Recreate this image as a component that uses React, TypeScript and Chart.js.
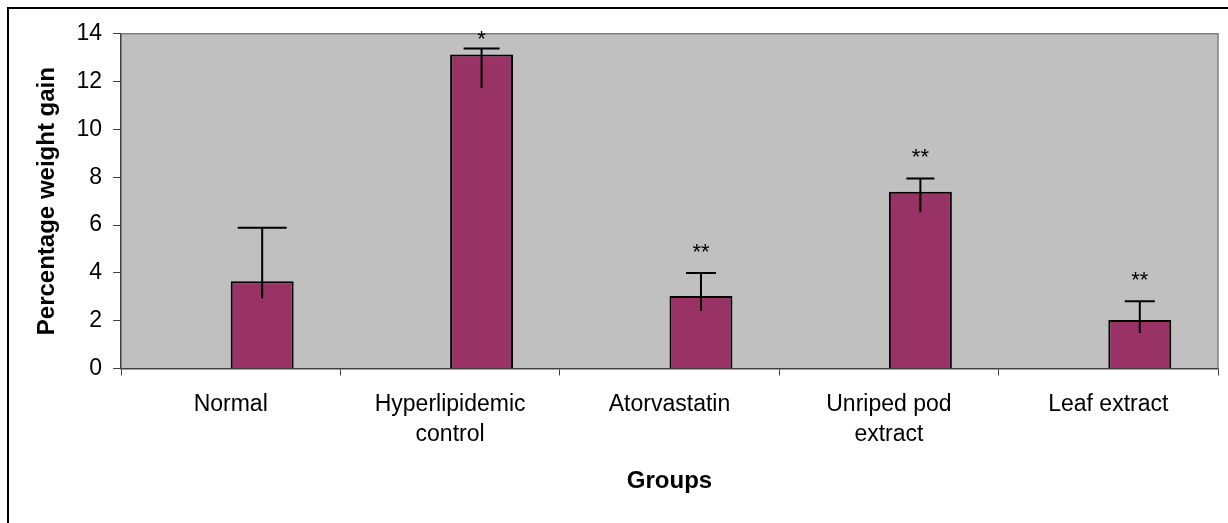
import React, { useEffect, useRef } from "react";
import { Chart, registerables } from "chart.js";

Chart.register(...registerables);

const categories: string[][] = [
  ["Normal"],
  ["Hyperlipidemic", "control"],
  ["Atorvastatin"],
  ["Unriped pod", "extract"],
  ["Leaf extract"],
];
const emptySeries: (number | null)[] = [null, null, null, null, null];
const meanGain: number[] = [3.65, 13.13, 3.03, 7.39, 2.03];
const errorPlus: number[] = [2.24, 0.26, 0.96, 0.56, 0.78];
const errorMinus: number[] = [0.71, 1.4, 0.62, 0.85, 0.54];
const significance: string[] = ["", "*", "**", "**", "**"];

const Y_MIN = 0;
const Y_MAX = 14;
const Y_STEP = 2;

const FONT = "'Liberation Sans', Arial, Helvetica, sans-serif";
const CAP_WIDTHS = [49, 36, 30, 28, 30];

const plotPlugin = {
  id: "plotDecor",
  beforeDraw(chart: any) {
    const { ctx, chartArea } = chart;
    ctx.save();
    ctx.fillStyle = "#C0C0C0";
    ctx.fillRect(chartArea.left, chartArea.top, chartArea.right - chartArea.left, chartArea.bottom - chartArea.top);
    ctx.restore();
  },
  afterDatasetsDraw(chart: any) {
    const { ctx, chartArea } = chart;
    const yScale = chart.scales.y;
    const meta = chart.getDatasetMeta(1);
    ctx.save();
    ctx.strokeStyle = "#808080";
    ctx.lineWidth = 1.5;
    ctx.beginPath();
    ctx.moveTo(chartArea.left, chartArea.top);
    ctx.lineTo(chartArea.right, chartArea.top);
    ctx.lineTo(chartArea.right, chartArea.bottom);
    ctx.stroke();

    meta.data.forEach((bar: any, i: number) => {
      const x = bar.x;
      const yTop = yScale.getPixelForValue(meanGain[i] + errorPlus[i]);
      const yBot = yScale.getPixelForValue(meanGain[i] - errorMinus[i]);
      const half = CAP_WIDTHS[i] / 2;
      ctx.strokeStyle = "#000";
      ctx.lineWidth = 2;
      ctx.beginPath();
      ctx.moveTo(x, yBot);
      ctx.lineTo(x, yTop);
      ctx.moveTo(x - half, yTop);
      ctx.lineTo(x + half, yTop);
      ctx.stroke();

      if (significance[i]) {
        ctx.fillStyle = "#000";
        ctx.font = `22px ${FONT}`;
        ctx.textAlign = "center";
        ctx.textBaseline = "alphabetic";
        const base = Math.max(yTop - 14, chartArea.top + 12);
        ctx.fillText(significance[i], x, base);
      }
    });
    ctx.restore();
  },
};

export default function App() {
  const ref = useRef<HTMLCanvasElement | null>(null);

  useEffect(() => {
    if (!ref.current) return;
    const chart = new Chart(ref.current, {
      type: "bar",
      data: {
        labels: categories,
        datasets: [
          { data: emptySeries, backgroundColor: "#993366", borderColor: "#000", borderWidth: 2 },
          { data: meanGain, backgroundColor: "#993366", borderColor: "#000", borderWidth: 2 },
        ],
      },
      options: {
        animation: false,
        responsive: true,
        maintainAspectRatio: false,
        datasets: { bar: { categoryPercentage: 0.574, barPercentage: 1 } },
        layout: { padding: { top: 20, right: 10, left: 0, bottom: 0 } },
        plugins: { legend: { display: false }, tooltip: { enabled: false } },
        scales: {
          x: {
            grid: { display: true, drawOnChartArea: false, drawTicks: true, tickLength: 7, color: "#404040", lineWidth: 1, offset: true },
            border: { display: true, color: "#404040", width: 1.5 },
            ticks: {
              color: "#000",
              font: { family: FONT, size: 23, lineHeight: 1.27 },
              padding: 15,
              maxRotation: 0,
              minRotation: 0,
              autoSkip: false,
            },
            title: {
              display: true,
              text: "Groups",
              color: "#000",
              font: { family: FONT, size: 24, weight: "bold", lineHeight: 1.2 },
              padding: { top: 0, bottom: 27 },
            },
            afterFit: (s: any) => {
              s.height = 154.5;
            },
          },
          y: {
            min: Y_MIN,
            max: Y_MAX,
            ticks: { stepSize: Y_STEP, color: "#000", font: { family: FONT, size: 23 }, padding: 11 },
            grid: { display: true, drawOnChartArea: false, drawTicks: true, tickLength: 8, color: "#404040", lineWidth: 1 },
            border: { display: true, color: "#404040", width: 1.5 },
            title: {
              display: true,
              text: "Percentage weight gain",
              color: "#000",
              font: { family: FONT, size: 24, weight: "bold", lineHeight: 1.2 },
              padding: { top: 23.5, bottom: 0 },
            },
            afterFit: (s: any) => {
              s.width = 112;
            },
          },
        },
      } as any,
      plugins: [plotPlugin],
    });
    return () => chart.destroy();
  }, []);

  return (
    <div
      style={{
        position: "absolute",
        left: 7,
        top: 7,
        width: 1219,
        height: 514,
        borderTop: "2px solid #000",
        borderLeft: "2px solid #000",
        overflow: "hidden",
      }}
    >
      <div style={{ position: "relative", width: 1219, height: 514 }}>
        <canvas ref={ref} />
      </div>
    </div>
  );
}
